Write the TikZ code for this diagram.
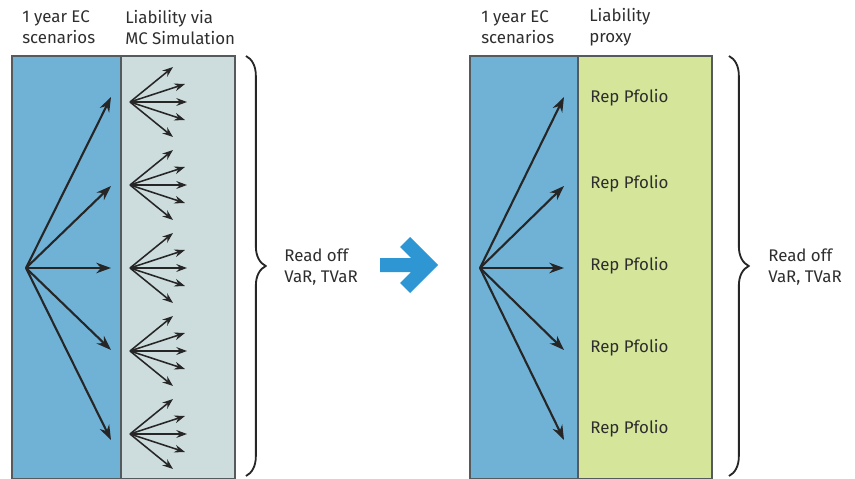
\documentclass[tikz,border=0pt]{standalone}
\usepackage{fontspec}
\setmainfont{Fira Sans}
\usetikzlibrary{decorations.pathreplacing,arrows.meta}
\definecolor{ecblue}{HTML}{70B2D6}
\definecolor{mcgrey}{HTML}{CDDCDC}
\definecolor{proxygreen}{HTML}{D5E69B}
\definecolor{bigblue}{HTML}{2D96D3}
\definecolor{txtgrey}{HTML}{2E2E2E}
\definecolor{edgegrey}{HTML}{555A5C}
\tikzset{
  panel/.style={draw=edgegrey, line width=0.8pt},
  label/.style={anchor=west, align=left, inner sep=0pt, text=txtgrey,
    font=\fontsize{12}{15}\selectfont},
  fanarrow/.style={->,>={Stealth[length=10.5pt,width=7.5pt]}, line width=1.5pt, black!85},
  subarrow/.style={->,>={Stealth[length=7.5pt,width=5.5pt]}, line width=1.1pt, black!85},
  bigbrace/.style={decorate, decoration={brace, amplitude=14pt},
    line width=1.3pt, black!85},
}
\begin{document}
\begin{tikzpicture}[x=0.025cm, y=-0.025cm]
\useasboundingbox (0,0) rectangle (855,479);
% left: full simulation
\draw[panel, fill=ecblue] (12,56) rectangle (121,479);
\draw[panel, fill=mcgrey] (121,56) rectangle (235,479);
\node[label] (ecL) at (22,27.5) {1 year EC\\scenarios};
\node[label] (mcL) at (125,27.5) {Liability via\\MC Simulation};
\coordinate (oL) at (26,268);
\foreach \y [count=\i] in {97,186,268,350,440} {
  \coordinate (tL\i) at (111,\y);
  \draw[fanarrow] (oL) -- (tL\i);
}
\foreach \c [count=\j] in {102,185,268,351,434} {
  \coordinate (mc\j) at (130,\c);
  \foreach \dx/\dy [count=\k] in {43/-35,55/-18,57/0,55/18,43/35} {
    \coordinate (mc\j-\k) at (130+\dx,\c+\dy);
    \draw[subarrow] (mc\j) -- (mc\j-\k);
  }
}
\draw[bigbrace] (246,56) -- (246,476);
\node[label] (readL) at (284,267) {Read off\\VaR, TVaR};
% arrow in the middle
\fill[bigblue] (380,258) -- (411,258) -- (400,247) -- (410,237) -- (438,265)
  -- (410,293) -- (400,283) -- (411,272) -- (380,272) -- cycle;
% right: proxy
\draw[panel, fill=ecblue] (470,56) rectangle (578,479);
\draw[panel, fill=proxygreen] (578,56) rectangle (712,479);
\node[label] (ecR) at (481,27.5) {1 year EC\\scenarios};
\node[label] (pxR) at (589,27.5) {Liability\\proxy};
\coordinate (oR) at (480,268);
\foreach \y [count=\i] in {97,186,268,350,440} {
  \coordinate (tR\i) at (564,\y);
}
\foreach \y [count=\i] in {98,184,266,348,429} {
  \node[label] (rep\i) at (590,\y) {Rep Pfolio};
}
\foreach \i in {1,...,5} {
  \draw[fanarrow] (oR) -- (tR\i);
}
\draw[bigbrace] (729,56) -- (729,476);
\node[label] (readR) at (768,267) {Read off\\VaR, TVaR};
\end{tikzpicture}
\end{document}
